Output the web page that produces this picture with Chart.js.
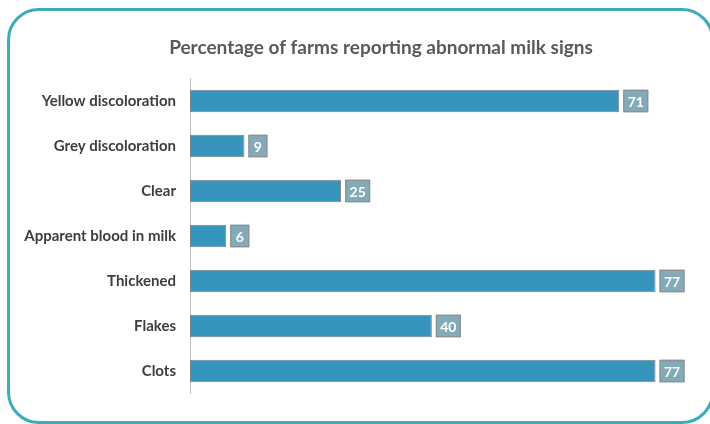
<!DOCTYPE html>
<html>
<head>
<meta charset="utf-8">
<script src="https://cdn.jsdelivr.net/npm/chart.js@4.4.1/dist/chart.umd.min.js"></script>
<style>
  body { margin: 0; background: #fff; }
  #wrap { position: relative; width: 710px; height: 424px; overflow: hidden; }
  #frame {
    position: absolute; left: 7px; top: 8px; width: 701px; height: 410px;
    border: 3px solid #3aadb9; border-radius: 32px;
  }
  #chart { position: absolute; left: 0; top: 0; }
</style>
</head>
<body>
<div id="wrap">
  <div id="frame"></div>
  <canvas id="chart" width="710" height="424"></canvas>
</div>
<script>
const chartTitle = 'Percentage of farms reporting abnormal milk signs';
const signs = ['Yellow discoloration', 'Grey discoloration', 'Clear', 'Apparent blood in milk', 'Thickened', 'Flakes', 'Clots'];
const percentFarms = [71, 9, 25, 6, 77, 40, 77];

const FONT = 'Lato, "Open Sans", sans-serif';

// title sits a bit left of the plot centre
const titleText = {
    id: 'titleText',
    afterDraw(chart) {
        const ctx = chart.ctx;
        ctx.save();
        ctx.font = 'bold 19px ' + FONT;
        ctx.fillStyle = '#595959';
        ctx.textAlign = 'center';
        ctx.textBaseline = 'middle';
        ctx.fillText(chartTitle, 381, 48);
        ctx.restore();
    }
};

// value boxes next to each bar end
const valueBoxes = {
    id: 'valueBoxes',
    afterDatasetsDraw(chart) {
        const ctx = chart.ctx;
        const meta = chart.getDatasetMeta(0);
        ctx.save();
        ctx.font = 'bold 14px ' + FONT;
        ctx.textAlign = 'center';
        ctx.textBaseline = 'middle';
        meta.data.forEach((bar, i) => {
            const text = String(chart.data.datasets[0].data[i]);
            const w = text.length > 1 ? 25 : 19;
            const h = bar.height;
            const x = bar.x + 4;
            const y = bar.y - h / 2;
            ctx.fillStyle = '#83aab6';
            ctx.fillRect(x, y, w, h);
            ctx.strokeStyle = '#8c8c8c';
            ctx.lineWidth = 1;
            ctx.strokeRect(x + 0.5, y + 0.5, w - 1, h - 1);
            ctx.fillStyle = '#ffffff';
            ctx.fillText(text, x + w / 2, bar.y + 1);
        });
        ctx.restore();
    }
};

new Chart(document.getElementById('chart'), {
    type: 'bar',
    data: {
        labels: signs,
        datasets: [{
            data: percentFarms,
            backgroundColor: '#3794bc',
            borderColor: '#808080',
            borderWidth: 1,
            borderSkipped: false,
            categoryPercentage: 1,
            barPercentage: 0.5
        }]
    },
    options: {
        indexAxis: 'y',
        responsive: false,
        animation: false,
        layout: { padding: { left: 10, right: 20, top: 78.5, bottom: 30.5 } },
        scales: {
            x: { display: false, min: 0, max: 82.7 },
            y: {
                afterFit(scale) { scale.width = 180; },
                grid: { display: false, drawTicks: false },
                border: { display: true, color: '#bfbfbf', width: 1 },
                ticks: {
                    padding: 14,
                    color: '#3d3d3d',
                    font: { family: FONT, size: 15, weight: 'bold' }
                }
            }
        },
        plugins: {
            legend: { display: false },
            tooltip: { enabled: false },
            title: { display: false }
        }
    },
    plugins: [valueBoxes, titleText]
});
</script>
</body>
</html>
